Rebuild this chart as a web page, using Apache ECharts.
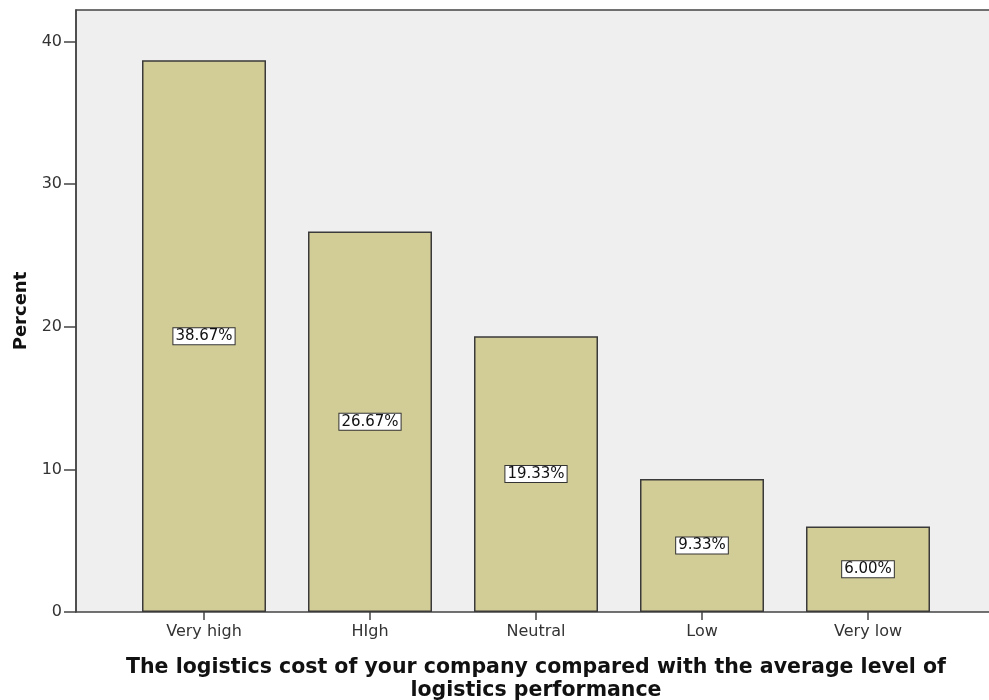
<!DOCTYPE html>
<html>
<head>
<meta charset="utf-8">
<script src="https://cdn.jsdelivr.net/npm/echarts@6/dist/echarts.min.js"></script>
<style>html,body{margin:0;padding:0;background:#fff;}#c{width:989px;height:700px;}</style>
</head>
<body>
<div id="c"></div>
<script>
var categories = ['Very high', 'HIgh', 'Neutral', 'Low', 'Very low'];
var percents = [38.67, 26.67, 19.33, 9.33, 6.00];
var yTicks = [0, 10, 20, 30, 40];
var xTitle = 'The logistics cost of your company compared with the average level of\nlogistics performance';
var yTitle = 'Percent';

var chart = echarts.init(document.getElementById('c'));
var yMax = 42.2;
chart.setOption({
  animation: false,
  grid: [
    {left: 76, top: 10, right: -10, bottom: 88, show: true, backgroundColor: '#efefef', borderColor: '#444', borderWidth: 1.5, outerBoundsMode: 'none', containLabel: false},
    {left: 121, width: 830, top: 10, bottom: 88, outerBoundsMode: 'none', containLabel: false}
  ],
  xAxis: [
    {gridIndex: 0, type: 'value', min: 0, max: 1, show: false},
    {gridIndex: 1, type: 'category', data: categories,
     axisLine: {show: false},
     axisTick: {show: true, alignWithLabel: true, length: 8, lineStyle: {color: '#444', width: 1.5}},
     axisLabel: {color: '#333', fontFamily: 'DejaVu Sans', fontSize: 16, margin: 12},
     name: xTitle, nameLocation: 'middle', nameGap: 44,
     nameTextStyle: {color: '#111', fontFamily: 'DejaVu Sans', fontWeight: 'bold', fontSize: 20.5, lineHeight: 23}
    }
  ],
  yAxis: [
    {gridIndex: 0, type: 'value', min: 0, max: yMax, interval: 10,
     axisLine: {show: true, lineStyle: {color: '#444', width: 1.5}},
     axisTick: {show: true, length: 12, lineStyle: {color: '#444', width: 1.5},
                customValues: yTicks},
     axisLabel: {color: '#333', fontFamily: 'DejaVu Sans', fontSize: 16, margin: 14, customValues: yTicks},
     splitLine: {show: false},
     name: yTitle, nameLocation: 'middle', nameGap: 46,
     nameTextStyle: {color: '#111', fontFamily: 'DejaVu Sans', fontWeight: 'bold', fontSize: 18}
    },
    {gridIndex: 1, type: 'value', min: 0, max: yMax, show: false}
  ],
  series: [{
    type: 'bar', xAxisIndex: 1, yAxisIndex: 1,
    data: percents,
    barWidth: 124,
    itemStyle: {color: '#d2cd97', borderColor: '#3a3a3a', borderWidth: 1.5},
    label: {show: true, position: 'inside',
      formatter: function (p) { return p.value.toFixed(2) + '%'; },
      color: '#111', fontFamily: 'DejaVu Sans', fontSize: 15,
      backgroundColor: '#fff', borderColor: '#333', borderWidth: 1, padding: [1, 2, 0, 2]}
  }]
});
</script>
</body>
</html>
